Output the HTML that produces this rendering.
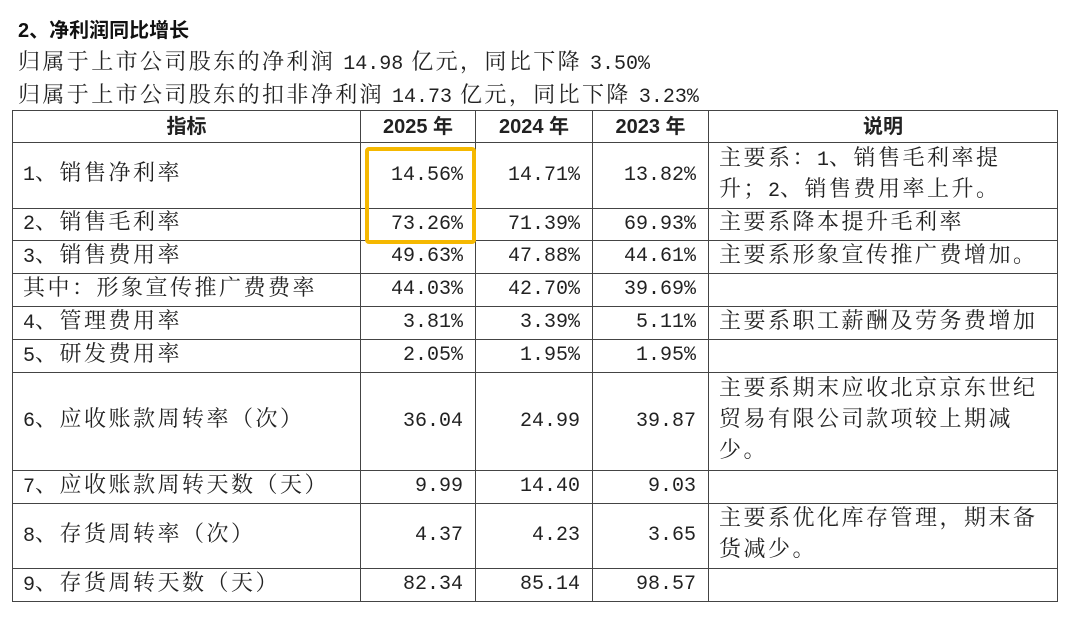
<!DOCTYPE html>
<html><head><meta charset="utf-8">
<style>
body{margin:0;width:1080px;height:623px;background:#fff;overflow:hidden;position:relative;font-family:"Liberation Mono","Noto Serif CJK SC",serif;color:#222;}
.t{position:absolute;left:18px;font-size:20px;white-space:nowrap;}
#title{top:14px;font-family:"Liberation Sans","Noto Sans CJK SC",sans-serif;font-weight:bold;font-size:20px;color:#111;}
.ln{word-spacing:-4px;}
.ln .c{font-size:22px;letter-spacing:2.4px;}
table{position:absolute;left:12px;top:110px;border-collapse:collapse;font-size:20px;}
td,th{border:1.5px solid #444;padding:0 10px;line-height:30px;white-space:nowrap;}
td .c{font-size:22px;letter-spacing:2.5px;}
th{font-family:"Liberation Sans","Noto Sans CJK SC",sans-serif;font-weight:bold;text-align:center;height:30px;}
td.n{text-align:right;padding-right:12px;}
td.l{padding-left:10px;}
#hl{position:absolute;left:365px;top:147px;width:103px;height:89px;border:4px solid #F5B800;border-radius:4px;}
</style></head><body>
<div id="title" class="t">2、净利润同比增长</div>
<div class="t ln w" style="top:45px">归属于上市公司股东的净利润 14.98 亿元，同比下降 3.50%</div>
<div class="t ln w" style="top:78px">归属于上市公司股东的扣非净利润 14.73 亿元，同比下降 3.23%</div>
<table class="w">
<colgroup><col style="width:348px"><col style="width:115px"><col style="width:117px"><col style="width:116px"><col style="width:349px"></colgroup>
<tr style="height:32px"><th>指标</th><th>2025 年</th><th>2024 年</th><th>2023 年</th><th>说明</th></tr>
<tr style="height:66px"><td class="l">1、销售净利率</td><td class="n">14.56%</td><td class="n">14.71%</td><td class="n">13.82%</td><td class="l">主要系：1、销售毛利率提<br>升；2、销售费用率上升。</td></tr>
<tr style="height:32px"><td class="l">2、销售毛利率</td><td class="n">73.26%</td><td class="n">71.39%</td><td class="n">69.93%</td><td class="l">主要系降本提升毛利率</td></tr>
<tr style="height:33px"><td class="l">3、销售费用率</td><td class="n">49.63%</td><td class="n">47.88%</td><td class="n">44.61%</td><td class="l">主要系形象宣传推广费增加。</td></tr>
<tr style="height:33px"><td class="l">其中：形象宣传推广费费率</td><td class="n">44.03%</td><td class="n">42.70%</td><td class="n">39.69%</td><td></td></tr>
<tr style="height:33px"><td class="l">4、管理费用率</td><td class="n">3.81%</td><td class="n">3.39%</td><td class="n">5.11%</td><td class="l">主要系职工薪酬及劳务费增加</td></tr>
<tr style="height:33px"><td class="l">5、研发费用率</td><td class="n">2.05%</td><td class="n">1.95%</td><td class="n">1.95%</td><td></td></tr>
<tr style="height:98px"><td class="l">6、应收账款周转率（次）</td><td class="n">36.04</td><td class="n">24.99</td><td class="n">39.87</td><td class="l">主要系期末应收北京京东世纪<br>贸易有限公司款项较上期减<br>少。</td></tr>
<tr style="height:33px"><td class="l">7、应收账款周转天数（天）</td><td class="n">9.99</td><td class="n">14.40</td><td class="n">9.03</td><td></td></tr>
<tr style="height:65px"><td class="l">8、存货周转率（次）</td><td class="n">4.37</td><td class="n">4.23</td><td class="n">3.65</td><td class="l">主要系优化库存管理，期末备<br>货减少。</td></tr>
<tr style="height:33px"><td class="l">9、存货周转天数（天）</td><td class="n">82.34</td><td class="n">85.14</td><td class="n">98.57</td><td></td></tr>
</table>
<div id="hl"></div>
<script>
var roots=document.querySelectorAll('.ln, td');
var re=/[\u3000-\u303f\u4e00-\u9fff\uff00-\uffef]+/g;
roots.forEach(function(r){
  var nodes=[];var w=document.createTreeWalker(r,NodeFilter.SHOW_TEXT);
  while(w.nextNode())nodes.push(w.currentNode);
  nodes.forEach(function(n){
    var s=n.nodeValue,last=0,m,frag=document.createDocumentFragment();
    re.lastIndex=0;
    while((m=re.exec(s))){
      if(m.index>last)frag.appendChild(document.createTextNode(s.slice(last,m.index)));
      var sp=document.createElement('span');
      sp.className='c';
      
      
      sp.textContent=m[0];frag.appendChild(sp);last=m.index+m[0].length;
    }
    if(last<s.length)frag.appendChild(document.createTextNode(s.slice(last)));
    n.parentNode.replaceChild(frag,n);
  });
});
</script>
</body></html>
